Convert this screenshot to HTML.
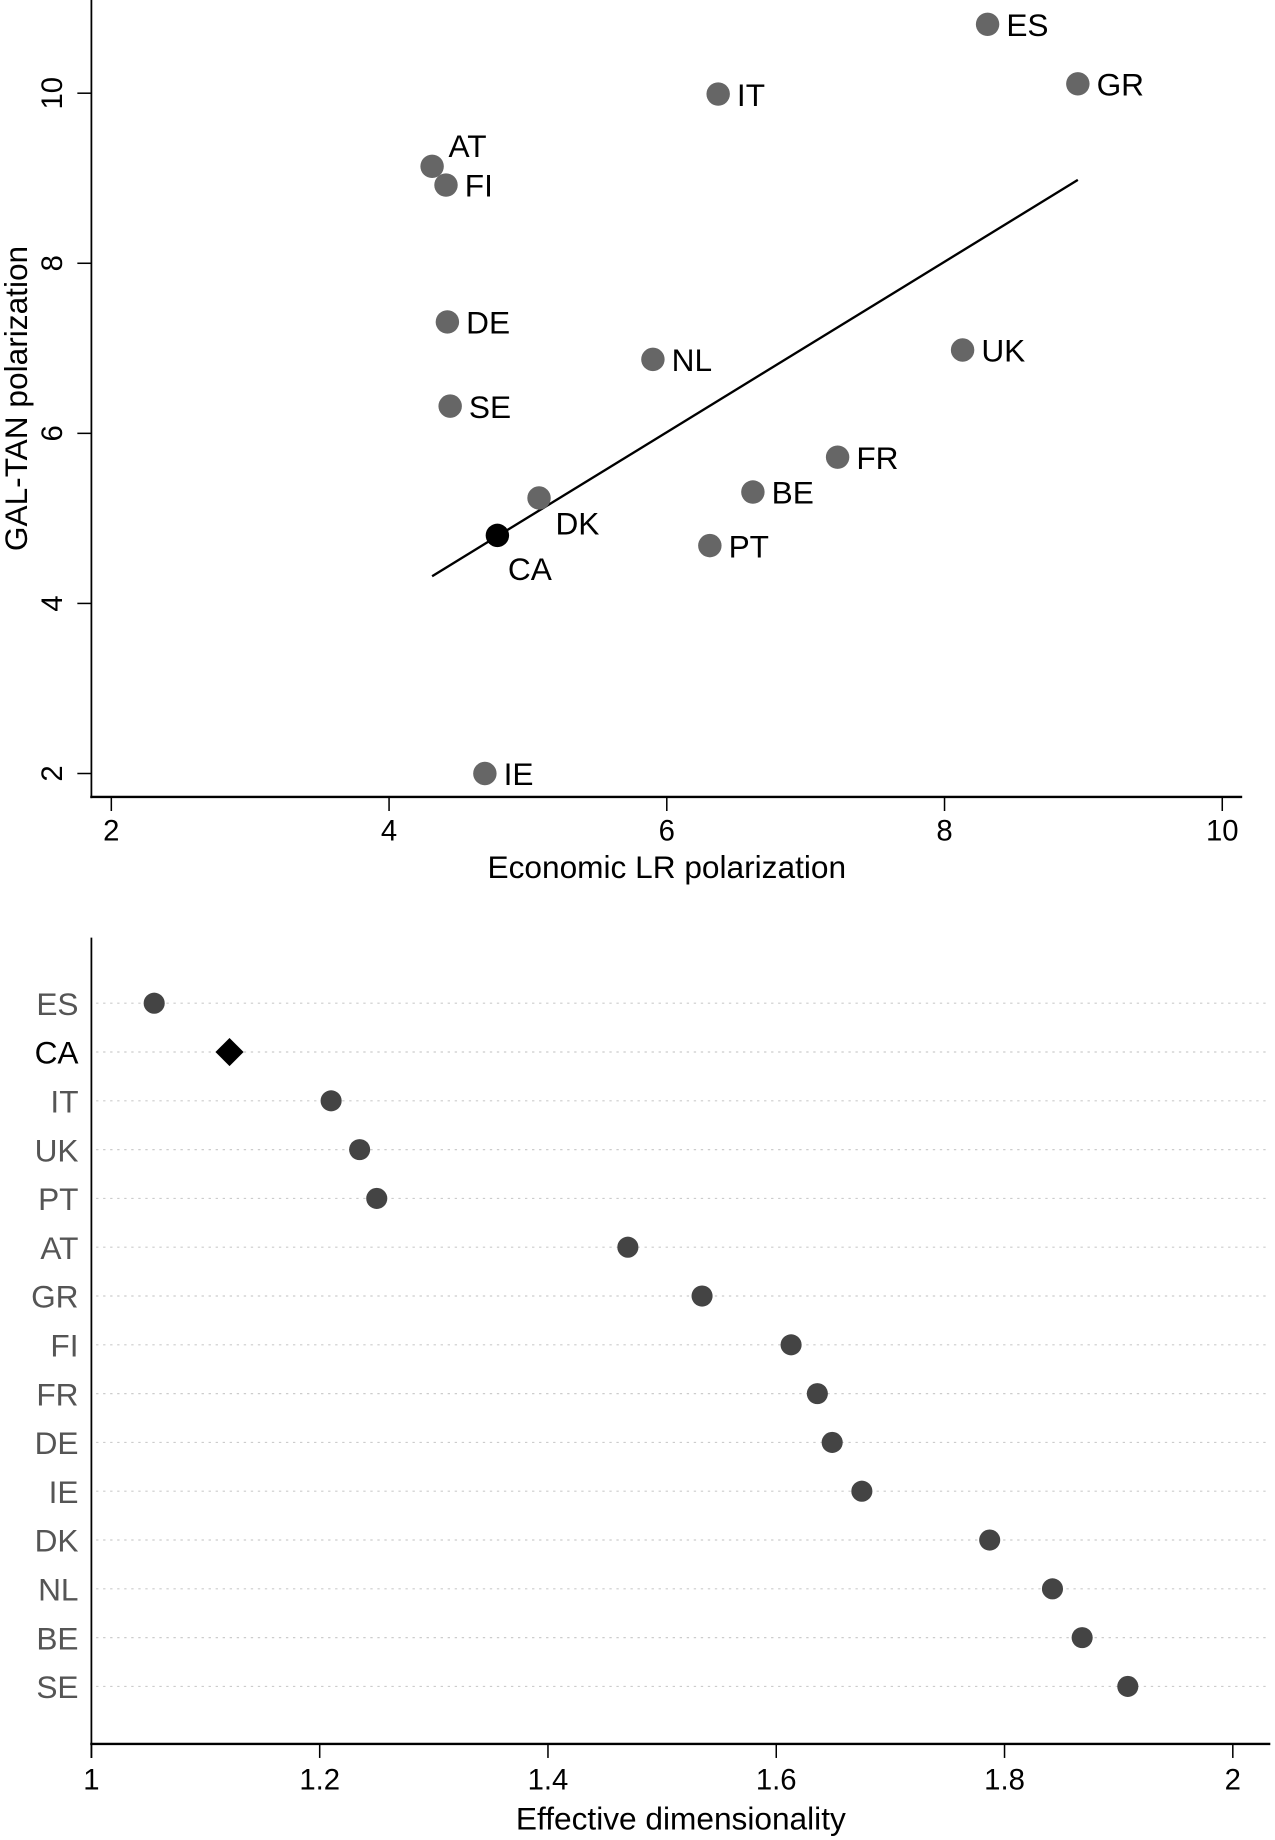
<!DOCTYPE html>
<html><head><meta charset="utf-8"><style>
html,body{margin:0;padding:0;background:#fff}
svg{display:block;font-family:"Liberation Sans",sans-serif}
</style></head><body>
<svg id="chart" width="1275" height="1840" viewBox="0 0 1088 1570" preserveAspectRatio="none">
<g id="topPanel"></g>
<g id="botPanel"></g>
</svg>
<script>
const scCountries=["ES","GR","IT","AT","FI","DE","SE","NL","UK","FR","BE","DK","PT","CA","IE"];
const scEcon=[8.31,8.96,6.37,4.31,4.41,4.42,4.44,5.90,8.13,7.23,6.62,5.08,6.31,4.78,4.69];
const scGalTan=[10.81,10.11,9.99,9.14,8.92,7.31,6.32,6.87,6.98,5.72,5.31,5.24,4.68,4.80,2.0];
const fitX=[4.31,8.96];
const fitY=[4.32,8.98];
const xTicks=[2,4,6,8,10];
const yTicks=[2,4,6,8,10];
const dimCountries=["ES","CA","IT","UK","PT","AT","GR","FI","FR","DE","IE","DK","NL","BE","SE"];
const dimValues=[1.055,1.121,1.210,1.235,1.250,1.470,1.535,1.613,1.636,1.649,1.675,1.787,1.842,1.868,1.908];
const dimTicks=[1,1.2,1.4,1.6,1.8,2];
const dimTickLabels=["1","1.2","1.4","1.6","1.8","2"];

const NS="http://www.w3.org/2000/svg";
function mk(parent,tag,attrs,text){const e=document.createElementNS(NS,tag);for(const k in attrs)e.setAttribute(k,attrs[k]);if(text!==undefined)e.textContent=text;parent.appendChild(e);return e;}

const topG=document.getElementById('topPanel');
const sx=v=>95+(v-2)*118.5;
const sy=v=>660-(v-2)*72.56;
let e;
e=mk(topG,'line',{x1:78,y1:0,x2:78,y2:681,stroke:'#000','stroke-width':1.5});


e=mk(topG,'line',{x1:77,y1:680,x2:1060,y2:680,stroke:'#000','stroke-width':2});


xTicks.forEach(t=>{
  mk(topG,'line',{x1:sx(t),y1:680,x2:sx(t),y2:692,stroke:'#000','stroke-width':1.3});
  e=mk(topG,'text',{x:sx(t),y:717,'text-anchor':'middle','font-size':25},String(t));
  
  
});
yTicks.forEach(t=>{
  mk(topG,'line',{x1:66,y1:sy(t),x2:78,y2:sy(t),stroke:'#000','stroke-width':1.3});
  e=mk(topG,'text',{x:0,y:0,'text-anchor':'middle','font-size':25,transform:`translate(53,${sy(t)}) rotate(-90)`},String(t));
  
  
});
e=mk(topG,'text',{x:569,y:749,'text-anchor':'middle','font-size':27},'Economic LR polarization');


e=mk(topG,'text',{x:0,y:0,'text-anchor':'middle','font-size':27,transform:'translate(23,340) rotate(-90)'},'GAL-TAN polarization');


e=mk(topG,'line',{x1:sx(fitX[0]),y1:sy(fitY[0]),x2:sx(fitX[1]),y2:sy(fitY[1]),stroke:'#000','stroke-width':2});


scCountries.forEach((c,i)=>{
  const x=sx(scEcon[i]),y=sy(scGalTan[i]);
  const ca=c==='CA';
  e=mk(topG,'circle',{cx:x,cy:y,r:10,fill:ca?'#000':'#666'});
  
  
  let lx=x+16,ly=y+10;
  if(c==='AT'){lx=x+14;ly=y-8;}
  if(c==='DK'){lx=x+14;ly=y+31;}
  if(c==='CA'){lx=x+9;ly=y+38;}
  e=mk(topG,'text',{x:lx,y:ly,'font-size':27},c);
  
  
});

const botG=document.getElementById('botPanel');
const bx=v=>78+(v-1)*974;
const by=i=>856+i*41.64;
e=mk(botG,'line',{x1:78,y1:800,x2:78,y2:1500,stroke:'#000','stroke-width':1.5});


e=mk(botG,'line',{x1:77,y1:1488,x2:1084,y2:1488,stroke:'#000','stroke-width':2});


dimTicks.forEach((t,i)=>{
  mk(botG,'line',{x1:bx(t),y1:1488,x2:bx(t),y2:1500,stroke:'#000','stroke-width':1.3});
  e=mk(botG,'text',{x:bx(t),y:1527,'text-anchor':'middle','font-size':25},dimTickLabels[i]);
  
  
});
e=mk(botG,'text',{x:581,y:1561,'text-anchor':'middle','font-size':27},'Effective dimensionality');


dimCountries.forEach((c,i)=>{
  const y=by(i),ca=c==='CA';
  e=mk(botG,'line',{x1:82,y1:y,x2:1084,y2:y,stroke:'#ccc','stroke-width':1,'stroke-dasharray':'2,4'});
  
  
  e=mk(botG,'text',{x:67,y:y+10,'text-anchor':'end','font-size':27,fill:ca?'#000':'#555'},c);
  
  
  const x=bx(dimValues[i]);
  if(ca){
    e=mk(botG,'polygon',{points:`${x},${y-12} ${x+12},${y} ${x},${y+12} ${x-12},${y}`,fill:'#000'});
  }else{
    e=mk(botG,'circle',{cx:x,cy:y,r:9,fill:'#444'});
  }
  
  
});
</script>
</body></html>
